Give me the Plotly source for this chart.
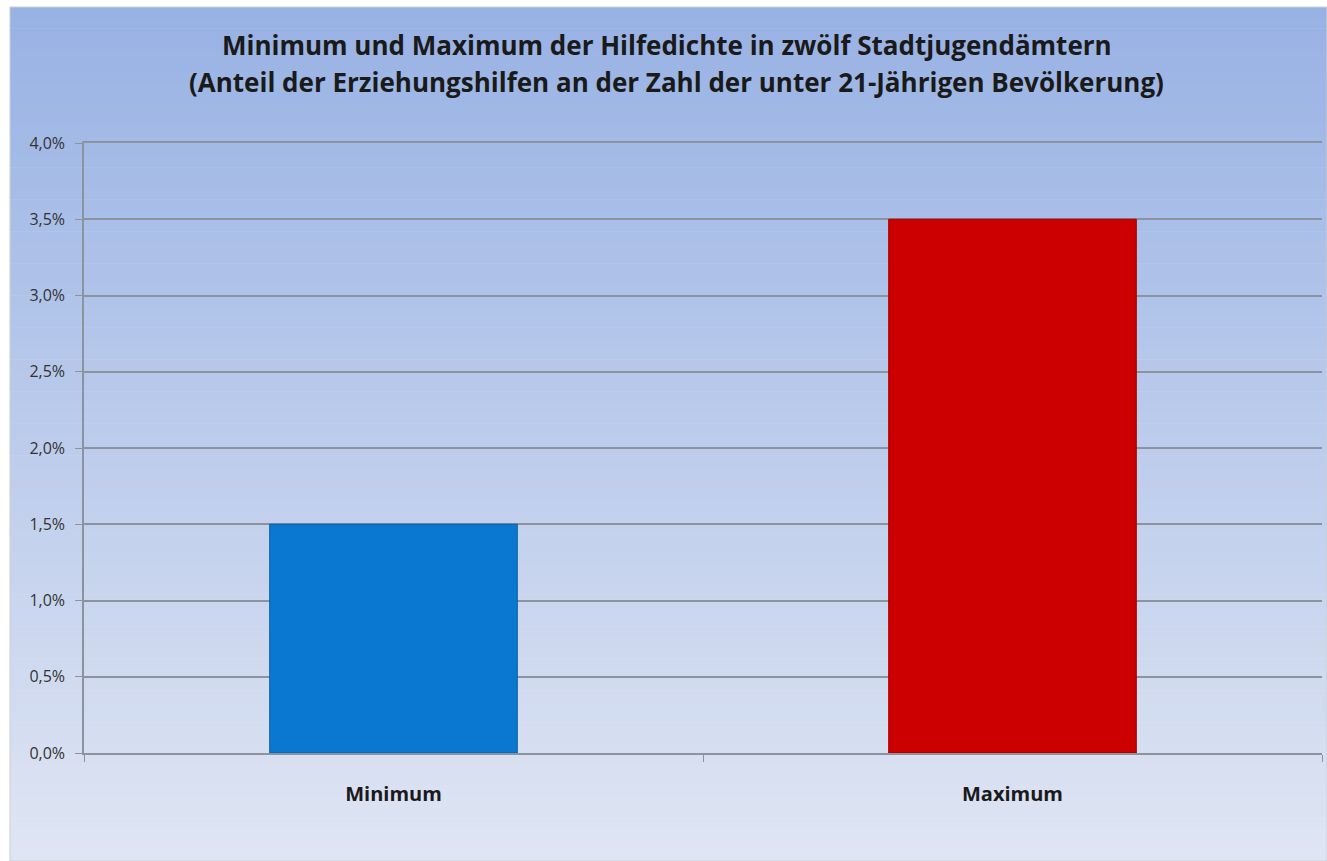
import plotly.graph_objects as go

categories = ["Minimum", "Maximum"]
values = [0.015, 0.035]
bar_colors = ["#0A78D0", "#CC0000"]
bar_line_colors = ["#0A5FA8", "#A00000"]
title_lines = ["Minimum und Maximum der Hilfedichte in zwölf Stadtjugendämtern",
               "(Anteil der Erziehungshilfen an der Zahl der unter 21-Jährigen Bevölkerung)"]
y_ticks = [0, 0.005, 0.01, 0.015, 0.02, 0.025, 0.03, 0.035, 0.04]

W, H = 1327, 861
L, R, T, B = 84, 5, 143, 108
pw, ph = W - L - R, H - T - B

fig = go.Figure()
fig.add_trace(go.Bar(
    x=categories, y=values,
    marker=dict(color=bar_colors, line=dict(color=bar_line_colors, width=1)),
    width=0.4,
))

def px_to_paper_x(px):
    return (px - L) / pw

def px_to_paper_y(py):
    return (H - B - py) / ph

# background gradient strips
top = (152, 178, 228)
bot = (223, 229, 243)
n = 80
x0, x1 = px_to_paper_x(10), px_to_paper_x(W)
y_start, y_end = 7, H
shapes = []
for i in range(n):
    f = i / (n - 1)
    c = tuple(round(top[k] + (bot[k] - top[k]) * f) for k in range(3))
    ya = y_start + (y_end - y_start) * i / n
    yb = y_start + (y_end - y_start) * (i + 1) / n + 0.5
    shapes.append(dict(type="rect", xref="paper", yref="paper", layer="below",
                       x0=x0, x1=x1, y0=px_to_paper_y(yb), y1=px_to_paper_y(ya),
                       fillcolor="rgb(%d,%d,%d)" % c, line=dict(width=0)))
shapes.append(dict(type="rect", xref="paper", yref="paper", layer="below",
                   x0=x0, x1=x1, y0=px_to_paper_y(H), y1=px_to_paper_y(7),
                   fillcolor="rgba(0,0,0,0)", line=dict(color="#C8CED8", width=1)))

title_font = dict(family="Open Sans", size=26, color="#1a1a1a", weight="bold")
annotations = [
    dict(text=title_lines[0], xref="paper", yref="paper", x=px_to_paper_x(667),
         y=px_to_paper_y(45), xanchor="center", yanchor="middle", showarrow=False,
         font=title_font),
    dict(text=title_lines[1], xref="paper", yref="paper", x=px_to_paper_x(676),
         y=px_to_paper_y(82), xanchor="center", yanchor="middle", showarrow=False,
         font=title_font),
]

fig.update_layout(
    width=W, height=H,
    margin=dict(l=L, r=R, t=T, b=B),
    paper_bgcolor="white",
    plot_bgcolor="rgba(0,0,0,0)",
    separators=", ",
    showlegend=False,
    bargap=0.6,
    shapes=shapes,
    annotations=annotations,
    font=dict(family="Open Sans"),
)
fig.update_yaxes(
    range=[0, 0.04], tickvals=y_ticks, tickformat=".1%",
    showgrid=True, gridcolor="#8A939E", gridwidth=1.5,
    showline=True, linecolor="#8A939E", linewidth=1.5,
    ticks="outside", ticklen=7, tickcolor="#8A939E",
    tickfont=dict(family="Open Sans", size=16, color="#333333"),
    ticklabelstandoff=7,
    zeroline=False,
)
fig.update_xaxes(
    showline=True, linecolor="#8A939E", linewidth=1.5, mirror=True,
    ticks="outside", ticklen=7, tickcolor="#8A939E", tickson="boundaries",
    tickfont=dict(family="Open Sans", size=20, color="#1a1a1a", weight="bold"),
    ticklabelstandoff=22,
)
fig.write_html("out.html")
